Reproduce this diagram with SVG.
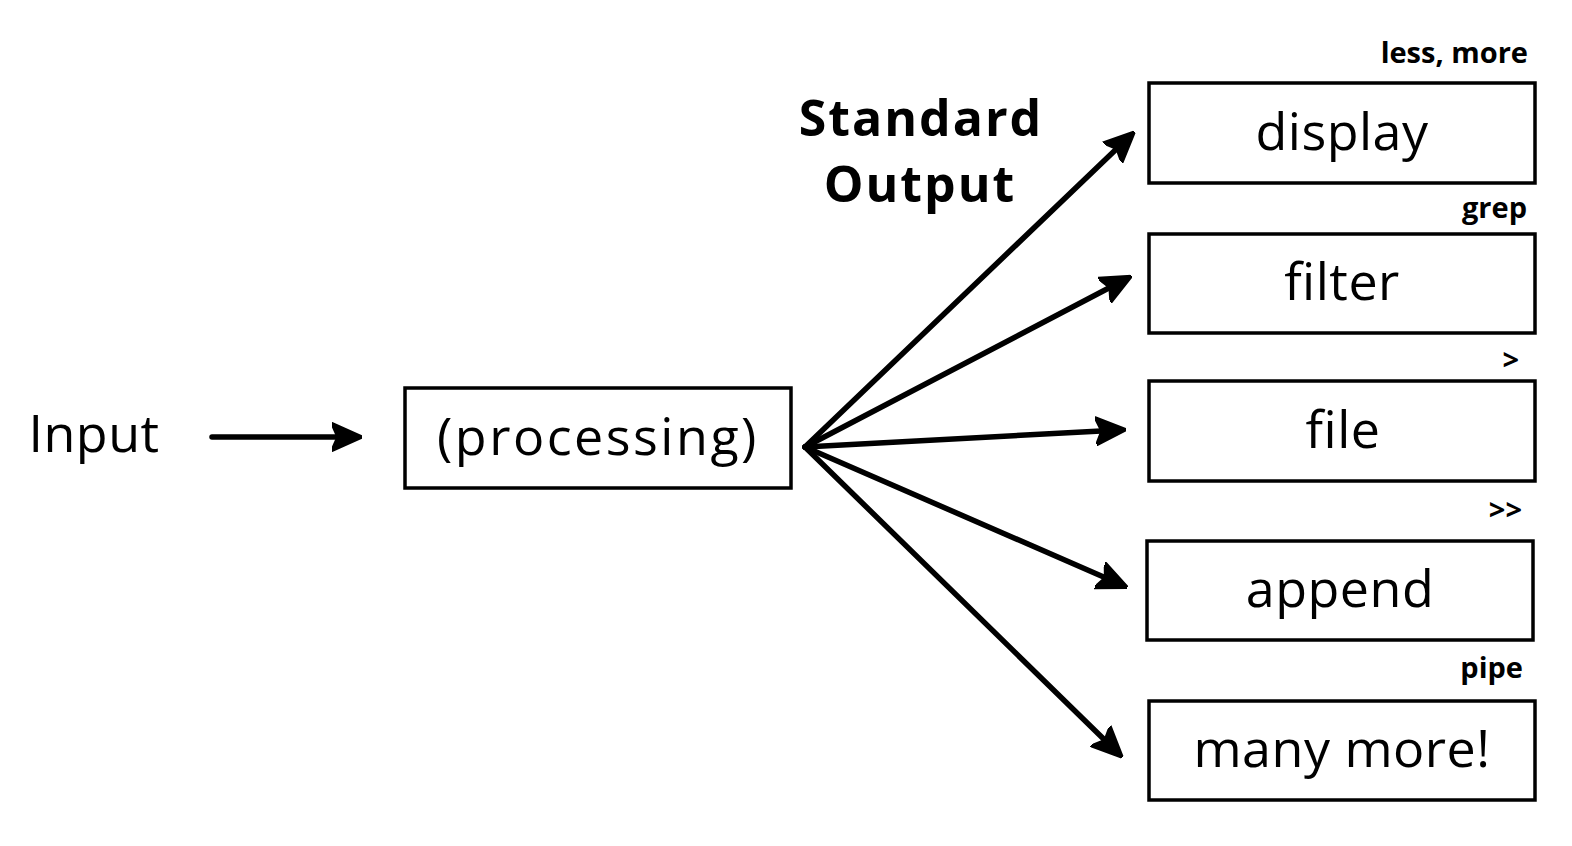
<svg xmlns="http://www.w3.org/2000/svg" width="1572" height="846" viewBox="0 0 1572 846">
<style>
.box{fill:#fff;stroke:#000;stroke-width:3.5}
.t{font-family:"Open Sans","Liberation Sans",Arial,sans-serif;fill:#000;text-anchor:middle}
.big{font-size:52px;letter-spacing:0.5px}
.lab{font-size:29px;font-weight:bold;text-anchor:end}
.head{font-size:50px;font-weight:bold;letter-spacing:2px}
.c{fill:none;stroke:#000;stroke-width:5.5;stroke-linecap:round}
</style>
<defs>
<marker id="ah" viewBox="0 0 10 10" refX="8" refY="5" markerWidth="5.5" markerHeight="5.5" markerUnits="strokeWidth" orient="auto">
<path d="M0,0.5 L10,5 L0,9.5 L2,5 Z" fill="#000" stroke="#000" stroke-width="1" stroke-linejoin="round"/>
</marker>
</defs>
<rect width="1572" height="846" fill="#fff"/>
<g id="input"><text class="t big" x="94" y="452">Input</text></g>
<g id="processing"><rect class="box" x="405" y="388" width="386" height="100"/><text class="t big" x="598" y="455" style="letter-spacing:2.5px">(processing)</text></g>
<g id="stdout"><text class="t head" x="921" y="136">Standard</text><text class="t head" x="920" y="202">Output</text></g>
<g id="display"><text class="t lab" x="1528" y="63">less, more</text><rect class="box" x="1149" y="83" width="386" height="100"/><text class="t big" x="1342" y="150">display</text></g>
<g id="filter"><text class="t lab" x="1527" y="218">grep</text><rect class="box" x="1149" y="234" width="386" height="99"/><text class="t big" x="1342" y="300">filter</text></g>
<g id="file"><text class="t lab" x="1519" y="370">&gt;</text><rect class="box" x="1149" y="381" width="386" height="100"/><text class="t big" x="1343" y="448">file</text></g>
<g id="append"><text class="t lab" x="1522" y="520">&gt;&gt;</text><rect class="box" x="1147" y="541" width="386" height="99"/><text class="t big" x="1340" y="607">append</text></g>
<g id="manymore"><text class="t lab" x="1523" y="678">pipe</text><rect class="box" x="1149" y="701" width="386" height="99"/><text class="t big" x="1342" y="767">many more!</text></g>
<g id="connectors">
<line class="c" x1="212" y1="437" x2="356" y2="437" marker-end="url(#ah)"/>
<line class="c" x1="805" y1="447" x2="1130" y2="136" marker-end="url(#ah)"/>
<line class="c" x1="805" y1="447" x2="1126" y2="279" marker-end="url(#ah)"/>
<line class="c" x1="805" y1="447" x2="1120" y2="430" marker-end="url(#ah)"/>
<line class="c" x1="805" y1="447" x2="1122" y2="585" marker-end="url(#ah)"/>
<line class="c" x1="805" y1="447" x2="1118" y2="753" marker-end="url(#ah)"/>
</g>
</svg>
